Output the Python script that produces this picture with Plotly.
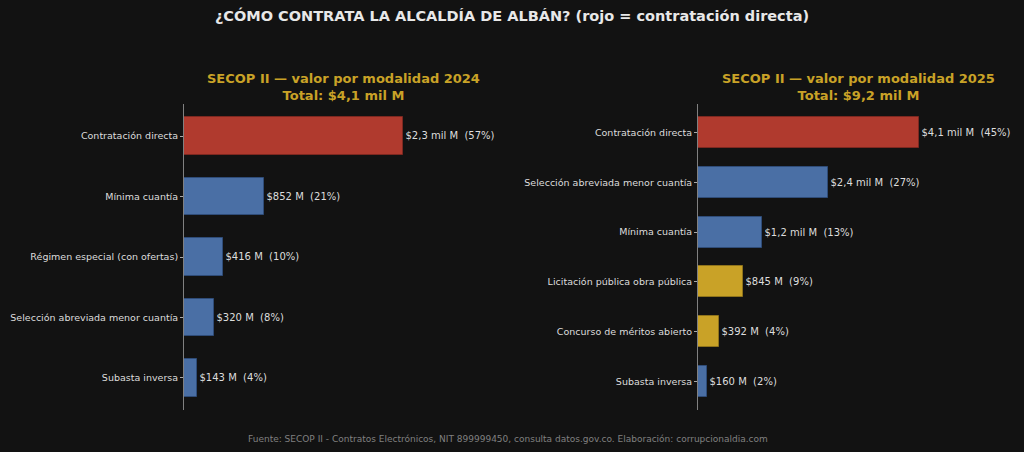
import plotly.graph_objects as go
from plotly.subplots import make_subplots

# 2024 - valor por modalidad (millones de pesos)
cats_2024 = ["Contratación directa", "Mínima cuantía", "Régimen especial (con ofertas)",
             "Selección abreviada menor cuantía", "Subasta inversa"]
vals_2024 = [2330, 852, 416, 320, 143]
labels_2024 = ["$2,3 mil M  (57%)", "$852 M  (21%)", "$416 M  (10%)", "$320 M  (8%)", "$143 M  (4%)"]
colors_2024 = ["#B03A2E", "#4A6FA5", "#4A6FA5", "#4A6FA5", "#4A6FA5"]

# 2025
cats_2025 = ["Contratación directa", "Selección abreviada menor cuantía", "Mínima cuantía",
             "Licitación pública obra pública", "Concurso de méritos abierto", "Subasta inversa"]
vals_2025 = [4150, 2450, 1200, 845, 392, 160]
labels_2025 = ["$4,1 mil M  (45%)", "$2,4 mil M  (27%)", "$1,2 mil M  (13%)", "$845 M  (9%)",
               "$392 M  (4%)", "$160 M  (2%)"]
colors_2025 = ["#B03A2E", "#4A6FA5", "#4A6FA5", "#C9A227", "#C9A227", "#4A6FA5"]

edge = {"#B03A2E": "#7d2820", "#4A6FA5": "#2f4c78", "#C9A227": "#8f731b"}

bg = "#121212"
font = "DejaVu Sans"

fig = make_subplots(rows=1, cols=2)

for col, cats, vals, labels, colors in [(1, cats_2024, vals_2024, labels_2024, colors_2024),
                                        (2, cats_2025, vals_2025, labels_2025, colors_2025)]:
    fig.add_trace(go.Bar(
        x=vals, y=cats, orientation="h",
        marker=dict(color=colors, line=dict(color=[edge[c] for c in colors], width=1)),
        width=0.62,
        text=[t.replace("  ", "\u00a0\u00a0") for t in labels],
        textposition="outside", cliponaxis=False,
        textfont=dict(color="#dddddd", size=10, family=font),
        showlegend=False, hoverinfo="skip",
    ), row=1, col=col)

fig.update_xaxes(visible=False, showgrid=False, zeroline=False)
fig.update_xaxes(range=[0, max(vals_2024) * 1.45], domain=[184 / 1024, 502 / 1024], row=1, col=1)
fig.update_xaxes(range=[0, max(vals_2025) * 1.45], domain=[698 / 1024, 1018 / 1024], row=1, col=2)

fig.update_yaxes(type="category", showgrid=False, zeroline=False, showline=True,
                 linecolor="#808080", linewidth=1, ticks="outside", ticklen=3,
                 tickcolor="#aaaaaa", tickfont=dict(color="#dddddd", size=9.5, family=font),
                 domain=[42 / 452, 348 / 452])
fig.update_yaxes(range=[len(cats_2024) - 1 + 0.53, -0.53], row=1, col=1)
fig.update_yaxes(range=[len(cats_2025) - 1 + 0.58, -0.58], row=1, col=2)

fig.update_layout(
    width=1024, height=452,
    paper_bgcolor=bg, plot_bgcolor=bg,
    margin=dict(l=0, r=0, t=0, b=0),
    font=dict(family=font, color="#dddddd"),
    title=dict(text="<b>¿CÓMO CONTRATA LA ALCALDÍA DE ALBÁN? (rojo = contratación directa)</b>",
               x=0.5, xanchor="center", y=1 - 16 / 452, yanchor="middle",
               font=dict(size=14.5, color="#e8e8e8", family=font)),
    bargap=0,
    annotations=[
        dict(text="<b>SECOP II — valor por modalidad 2024<br>Total: $4,1 mil M</b>",
             x=343 / 1024, y=1 - 87 / 452, xref="paper", yref="paper", showarrow=False,
             xanchor="center", yanchor="middle", font=dict(size=13, color="#C9A227", family=font)),
        dict(text="<b>SECOP II — valor por modalidad 2025<br>Total: $9,2 mil M</b>",
             x=858 / 1024, y=1 - 87 / 452, xref="paper", yref="paper", showarrow=False,
             xanchor="center", yanchor="middle", font=dict(size=13, color="#C9A227", family=font)),
        dict(text="Fuente: SECOP II - Contratos Electrónicos, NIT 899999450, consulta datos.gov.co. Elaboración: corrupcionaldia.com",
             x=508 / 1024, y=1 - 439 / 452, xref="paper", yref="paper", showarrow=False,
             xanchor="center", yanchor="middle", font=dict(size=9, color="#808080", family=font)),
    ],
)

# quitar el margen del body para que la figura llene la ventana
fig.write_html("out.html", config={"displayModeBar": False},
               post_script="document.body.style.margin='0';document.body.style.background='#121212';")
